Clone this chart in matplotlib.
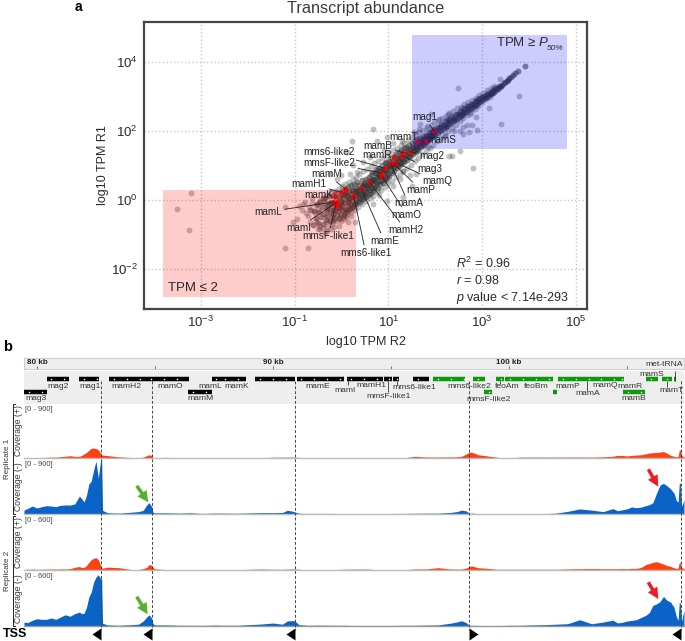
"""Transcript abundance scatter (a) and coverage tracks of the MAI region (b)."""
import numpy as np
from matplotlib import pyplot as plt
from matplotlib.patches import Rectangle

plt.rcParams['font.family'] = ['Liberation Sans', 'DejaVu Sans']
plt.rcParams['mathtext.fontset'] = 'custom'
plt.rcParams['mathtext.rm'] = 'Liberation Sans'
plt.rcParams['mathtext.it'] = 'Liberation Sans:italic'

W, H = 685, 641

# log10 TPM (R2, R1), dense diagonal read in three stretches
band_low = [(-.60,-.72),(-.58,-.31),(-.55,-.52),(-.52,-.12),(-.50,-.66),(-.48,-.35),(-.46,-.05),(-.44,-.50),(-.42,-.22),(-.40,-.71),
            (-.38,-.40),(-.36,-.10),(-.35,.05),(-.33,-.58),(-.31,-.28),(-.30,-.46),(-.28,-.15),(-.27,.10),(-.25,-.62),(-.24,-.35),
            (-.22,-.05),(-.21,-.50),(-.20,-.22),(-.18,.12),(-.17,-.41),(-.16,-.10),(-.15,-.55),(-.13,-.28),(-.12,.02),(-.11,.20),
            (-.10,-.45),(-.08,-.15),(-.07,-.33),(-.06,.08),(-.05,-.52),(-.03,-.22),(-.02,.15),(-.01,-.05),(.00,-.40),(.01,-.14),
            (.02,.25),(.03,-.30),(.04,.05),(.05,-.45),(.06,-.08),(.07,.18),(.08,-.25),(.09,.32),(.10,-.35),(.11,.00),
            (.12,.12),(.13,-.18),(.14,.38),(.15,-.30),(.16,.06),(.17,.24),(.18,-.12),(.19,-.26),(.20,.16),(.21,.42),
            (.22,-.04),(.23,-.20),(.24,.30),(.25,.08),(.26,-.15),(.27,.46),(.28,.20),(.29,-.08),(.30,.02),(.31,.36),
            (.32,-.12),(.33,.14),(.34,.52),(.35,-.02),(.36,.26),(.37,.06),(.38,.44),(.39,-.06),(.40,.18),(.41,.32),
            (.42,.02),(.43,.58),(.44,.10),(.45,.40),(.46,.22),(.47,.04),(.48,.50),(.49,.16),(.50,.30),(.51,.08),
            (.52,.62),(.53,.22),(.54,.44),(.55,.12),(.56,.34),(.57,.54),(.58,.18),(.59,.68),(.60,.28)]
band_mid = [(.61,.42),(.62,.72),(.63,.20),(.64,.56),(.65,.36),(.66,.82),(.67,.26),(.68,.62),(.69,.46),(.70,.34),
            (.71,.78),(.72,.54),(.73,.90),(.74,.40),(.75,.66),(.76,.48),(.77,.86),(.78,.36),(.79,.72),(.80,.56),
            (.81,.94),(.82,.46),(.83,.66),(.84,.84),(.85,.54),(.86,1.02),(.87,.70),(.88,.50),(.89,.90),(.90,.62),
            (.91,.78),(.92,1.06),(.93,.58),(.94,.84),(.95,.70),(.96,1.10),(.97,.64),(.98,.92),(1.00,.76),(1.01,1.14),
            (1.02,.70),(1.03,.98),(1.05,.84),(1.06,1.22),(1.07,.78),(1.08,1.04),(1.10,.92),(1.11,1.28),(1.12,.84),(1.14,1.10),
            (1.15,.98),(1.16,1.34),(1.18,.92),(1.19,1.18),(1.20,1.04),(1.22,1.38),(1.23,.98),(1.24,1.22),(1.26,1.10),(1.27,1.44),
            (1.28,1.04),(1.30,1.28),(1.31,1.14),(1.33,1.50),(1.34,1.10),(1.35,1.34),(1.37,1.22),(1.38,1.54),(1.40,1.16),(1.41,1.40),
            (1.43,1.28),(1.44,1.60),(1.46,1.24),(1.47,1.46),(1.49,1.34),(1.50,1.64),(1.52,1.32),(1.53,1.52),(1.55,1.42),(1.56,1.70),
            (1.58,1.40),(1.59,1.58),(1.61,1.48),(1.62,1.76),(1.64,1.46),(1.65,1.64),(1.67,1.56),(1.68,1.80),(1.70,1.54),(1.71,1.72),
            (1.73,1.62),(1.74,1.86),(1.76,1.60),(1.77,1.76),(1.79,1.68),(1.80,1.90),(1.82,1.68),(1.83,1.84),(1.85,1.74),(1.86,1.96),
            (1.88,1.76),(1.89,1.90),(1.91,1.82),(1.92,2.02),(1.94,1.82),(1.95,1.96),(1.97,1.90),(1.98,2.06),(2.00,1.88)]
band_high = [(2.02,2.00),(2.04,2.12),(2.06,1.94),(2.08,2.08),(2.10,2.00),(2.12,2.22),(2.14,2.04),(2.16,2.18),(2.18,2.08),(2.20,2.28),
             (2.22,2.12),(2.24,2.26),(2.26,2.14),(2.28,2.36),(2.30,2.20),(2.32,2.34),(2.34,2.24),(2.36,2.44),(2.38,2.28),(2.40,2.42),
             (2.42,2.32),(2.44,2.50),(2.46,2.36),(2.48,2.50),(2.50,2.40),(2.52,2.58),(2.54,2.44),(2.56,2.56),(2.58,2.48),(2.60,2.66),
             (2.62,2.52),(2.64,2.64),(2.66,2.56),(2.68,2.72),(2.70,2.60),(2.72,2.72),(2.74,2.64),(2.76,2.80),(2.78,2.68),(2.80,2.80),
             (2.82,2.72),(2.84,2.86),(2.86,2.76),(2.88,2.88),(2.90,2.80),(2.92,2.92),(2.94,2.84),(2.96,2.95),(2.98,2.88),(3.00,3.00),
             (3.02,2.92),(3.04,3.02),(3.06,2.96),(3.08,3.06),(3.10,3.00),(3.12,3.10),(3.14,3.04),(3.16,3.12),(3.18,3.08),(3.20,3.17),
             (3.22,3.10),(3.24,3.20),(3.26,3.14),(3.28,3.24),(3.30,3.18),(3.32,3.26),(3.34,3.22),(3.36,3.30),(3.38,3.28),(3.40,3.31),
             (3.43,3.35),(3.46,3.40),(3.49,3.42),(3.52,3.46),(3.55,3.48),(3.58,3.54),(3.62,3.57),(3.66,3.62),(3.70,3.68),(3.77,3.76),(3.91,3.88)]
band_core = [(-.30,-.24),(-.24,-.10),(-.18,-.30),(-.12,-.12),(-.06,-.24),(.00,-.02),(.06,.14),(.10,.20),(.14,-.06),(.18,.06),
             (.22,.30),(.26,.12),(.30,.22),(.34,.28),(.38,.18),(.42,.34),(.46,.42),(.50,.44),(.54,.36),(.58,.46),
             (.62,.52),(.66,.58),(.70,.62),(.74,.78),(.78,.70),(.82,.76),(.86,.88),(.90,.84),(.94,.96),(.98,.86),
             (1.02,1.02),(1.06,.98),(1.10,1.12),(1.14,1.04),(1.18,1.22),(1.22,1.14),(1.26,1.30),(1.30,1.20),(1.34,1.38),(1.38,1.30),
             (1.42,1.48),(1.46,1.38),(1.50,1.54),(1.54,1.46),(1.58,1.62),(1.62,1.54),(1.66,1.72),(1.70,1.64),(1.74,1.78),(1.78,1.72),
             (1.82,1.86),(1.86,1.80),(1.90,1.94),(1.94,1.88),(1.98,2.00),(2.10,2.12),(2.20,2.18),(2.30,2.30),(2.40,2.36),(2.50,2.50),
             (2.60,2.56),(2.70,2.68),(2.80,2.76),(2.90,2.88)]
edge_upper = [(-.65,-.28),(-.55,-.15),(-.45,.00),(-.38,.06),(-.30,.14),(-.22,.22),(-.14,.26),(-.06,.32),(.02,.40),(.08,.46),
              (.16,.52),(.24,.62),(.30,.68),(.38,.76),(.46,.84),(.54,.90),(.62,.98),(.70,1.06),(.78,1.14),(.86,1.22),
              (.94,1.28),(1.02,1.36),(1.10,1.44),(1.18,1.52),(1.26,1.60),(1.34,1.66),(1.42,1.74),(1.50,1.82),(1.58,1.88),(1.66,1.96),
              (1.74,2.04),(1.82,2.10),(1.90,2.18),(1.98,2.26),(2.06,2.30),(2.14,2.38),(2.22,2.44),(2.30,2.52),(2.38,2.58),(2.46,2.66),
              (2.54,2.70),(2.62,2.78),(2.70,2.84),(2.78,2.90),(2.86,2.97),(2.94,3.04),(3.02,3.11),(3.10,3.18),(3.18,3.24),(3.26,3.32)]
edge_lower = [(-.50,-.85),(-.40,-.82),(-.30,-.78),(-.20,-.70),(-.12,-.62),(-.04,-.56),(.04,-.50),(.12,-.42),(.20,-.36),(.28,-.28),
              (.36,-.20),(.44,-.12),(.52,-.04),(.60,.06),(.68,.12),(.76,.22),(.84,.30),(.92,.38),(1.00,.48),(1.08,.56),
              (1.16,.66),(1.24,.74),(1.32,.84),(1.40,.94),(1.48,1.02),(1.56,1.12),(1.64,1.22),(1.72,1.32),(1.80,1.42),(1.88,1.50),
              (1.96,1.60),(2.04,1.70),(2.12,1.80),(2.20,1.90),(2.28,2.00),(2.36,2.08),(2.44,2.18),(2.52,2.28),(2.60,2.38),(2.68,2.47),
              (2.76,2.56),(2.84,2.65),(2.92,2.74),(3.00,2.84),(3.08,2.92),(3.16,3.00),(3.24,3.10)]
scattered = [(-3.21,.20),(-3.51,-.26),(-3.26,-.87),(-1.20,-1.41),(-.71,-1.41),(-1.20,-.21),(-1.03,-.65),(-.95,-.55),(-.90,-.19),(-.76,-.38),
             (-.56,-.39),(-.67,-.65),(-.31,-.65),(-.18,-.60),(.14,-.65),(.29,-.65),(-.82,-.11),(-.62,-.10),(-.70,-.22),(-.48,-.75),
             (-.05,-.75),(.05,-.55),(.68,2.05),(.22,1.72),(.11,1.38),(2.81,.92),(2.53,1.43),(.75,1.72),(.97,1.82),(1.10,1.64),
             (.33,.80),(.18,.76),(-.24,.76),(-.10,.62),(.00,.72),(.25,1.00),(.45,1.10),(.60,1.25),(1.60,.76),(1.46,.71),
             (1.32,.85),(1.50,.41),(1.32,.08),(.97,-.02),(.68,-.11),(.25,-.21),(.80,.15),(1.10,.40),(1.25,.62),(2.48,3.26),
             (3.79,3.02),(3.40,2.21),(3.15,2.67),(2.87,2.40),(2.88,2.03),(2.78,2.19),(2.67,2.19),(2.59,2.13),(2.53,1.99),(2.71,1.96),
             (2.60,1.92),(2.35,1.27),(2.30,1.29),(1.90,2.50),(2.07,2.35),(1.68,2.21),(1.66,2.06),(1.82,2.16),(3.37,3.50),(2.74,2.50),
             (2.27,2.50),(2.20,1.85),(2.40,2.00),(1.85,1.55),(1.55,1.98),(1.30,1.72),(.90,1.45),(-.85,-.30),(-.78,-.05),(-.72,-.48),
             (-.66,-.30),(-.62,.05),(-.55,-.62),(-.50,-.25),(-.45,-.85),(-.40,.06),(-.36,-.95),(-.30,-.90),(-.22,-.85),(-.15,-.80),
             (.00,-.62),(.10,-.50),(.20,-.48)]

# the magnetosome genes marked in red
marked_genes = ['mag1', 'mamS', 'mamT', 'mag2', 'mamB', 'mag3', 'mamR', 'mamQ', 'mamP', 'mamA', 'mms6-like2',
                'mmsF-like2', 'mamO', 'mamH2', 'mamE', 'mms6-like1', 'mamM', 'mamH1', 'mamK', 'mamL', 'mamI', 'mmsF-like1']
marked_r2 = [1.98, 1.80, 1.62, 1.46, 1.32, 1.29, 1.12, 1.16, 1.11, 1.04, .92,
             .85, .87, .59, .42, .26, .08, -.02, -.14, -.17, -.10, -.12]
marked_r1 = [1.99, 1.72, 1.67, 1.40, 1.37, 1.28, 1.26, 1.08, 1.06, 1.08, .92,
             .78, .68, .52, .34, .12, .32, .23, .10, -.06, -.07, -.17]

# where the labels sit on the page, in pixels
label_px = [(424.7, 117.3), (442, 140), (403, 137), (431.7, 155.7), (378, 145.7), (430, 168.7), (376.7, 155),
            (437.3, 181.5), (420.7, 190), (408.3, 202.7), (329.3, 152.3), (329.3, 162.7), (406.7, 214.7),
            (405.7, 229.7), (384.3, 240.7), (365.7, 252.7), (326.7, 174.3), (308.7, 183.7), (318.3, 195),
            (268.3, 211.7), (299, 227.7), (328.3, 235.7)]
no_leader = ['mamS', 'mamT', 'mamR', 'mamK']

# genes along the island: name of the bar, start and end in kb
black_genes_row1 = [(80.41, 81.36), (81.79, 82.64), (83.05, 84.65), (84.65, 86.43), (87.40, 87.75), (87.75, 88.86),
                    (89.24, 90.93), (91.0, 93.0), (93.12, 94.67), (94.7, 95.03), (95.07, 95.35), (95.93, 96.61)]
black_genes_row2 = [(79.45, 80.42), (86.41, 87.40)]
green_genes_row1 = [(96.79, 98.12), (98.47, 98.97), (99.45, 99.79), (99.83, 101.88), (102.09, 103.69), (103.69, 104.56),
                    (104.59, 104.87), (105.81, 106.3), (106.48, 106.93), (107.0, 107.08)]
green_genes_row2 = [(98.95, 99.29), (101.88, 102.05), (104.84, 105.76)]
gene_labels = ['mag2', 'mag1', 'mamH2', 'mamO', 'mamL', 'mamK', 'mamE', 'mag3', 'mamM', 'mamI', 'mamH1', 'mmsF-like1',
               'mms6-like1', 'mms6-like2', 'mmsF-like2', 'feoAm', 'feoBm', 'mamP', 'mamA', 'mamQ', 'mamR', 'mamB',
               'mamS', 'met-tRNA', 'mamT']
gene_label_px = [(58.3, 386), (90, 386), (126.7, 386), (170, 386), (210.3, 386), (237, 386), (317.7, 386), (35.7, 399),
                 (201, 399), (345.5, 390), (371.7, 385.7), (389, 397), (414.7, 387.3), (469.3, 387), (488.7, 399.3),
                 (507, 387), (536.7, 387), (567.7, 386), (587.7, 393.7), (605, 385.3), (630, 386.3), (634, 398.7),
                 (651.3, 374), (664.3, 365), (671.7, 390.3)]
gene_stems_kb = [93.18, 94.86, 95.25, 99.62, 103.31, 106.69, 107.03]

ruler_major = [80, 90, 100]
ruler_minor = [85, 95, 105]
tss_kb = [82.73, 84.87, 90.93, 98.32, 107.28]
tss_forward = [False, False, False, True, False]

# coverage, all four tracks read at the same positions (kb)
cov_kb = [79.45, 79.6, 79.8, 80.0, 80.2, 80.4, 80.6, 80.8, 81.0, 81.2,
          81.4, 81.6, 81.8, 81.9, 82.0, 82.1, 82.2, 82.3, 82.4, 82.5,
          82.6, 82.7, 82.74, 82.78, 83.0, 83.5, 84.0, 84.3, 84.5, 84.65,
          84.75, 84.85, 84.92, 85.0, 85.5, 86.0, 86.5, 87.0, 87.5, 88.0,
          88.5, 89.0, 89.5, 90.0, 90.4, 90.6, 90.8, 90.93, 91.1, 91.5,
          92.0, 92.5, 93.0, 93.5, 94.0, 94.5, 95.0, 95.5, 96.0, 96.5,
          97.0, 97.5, 97.8, 98.0, 98.2, 98.33, 98.45, 98.7, 99.0, 99.5,
          100.0, 100.5, 101.0, 101.5, 102.0, 102.5, 103.0, 103.5, 104.0, 104.4,
          104.6, 104.8, 105.0, 105.2, 105.4, 105.6, 105.8, 105.95, 106.1, 106.25,
          106.4, 106.55, 106.7, 106.85, 107.0, 107.1, 107.17, 107.22, 107.27, 107.32,
          107.37, 107.42]
rep1_plus = [5, 5, 8, 5, 8, 12, 15, 15, 22, 30,
             39, 28, 28, 45, 70, 95, 130, 165, 170, 160,
             140, 80, 55, 50, 40, 18, 8, 0, 15, 40,
             55, 45, 5, 0, 12, 0, 0, 8, 0, 0,
             8, 0, 0, 14, 14, 14, 15, 15, 10, 0,
             0, 0, 8, 5, 5, 5, 0, 0, 28, 17,
             17, 18, 20, 30, 70, 100, 95, 55, 40, 12,
             0, 15, 15, 15, 15, 17, 17, 15, 20, 30,
             44, 44, 35, 45, 50, 55, 70, 85, 90, 95,
             100, 110, 80, 45, 28, 20, 30, 130, 139, 50,
             28, 25]
rep1_minus = [67, 92, 133, 100, 122, 138, 133, 122, 145, 150,
              150, 167, 300, 250, 200, 317, 500, 550, 733, 883,
              600, 900, 900, 60, 20, 15, 30, 40, 60, 150,
              190, 130, 28, 20, 20, 15, 20, 10, 15, 15,
              12, 18, 22, 22, 25, 60, 50, 33, 12, 10,
              10, 10, 8, 8, 8, 8, 8, 10, 12, 14,
              14, 25, 40, 65, 50, 6, 15, 5, 8, 8,
              6, 6, 4, 5, 15, 45, 85, 65, 40, 90,
              55, 70, 85, 117, 105, 115, 140, 155, 190, 340,
              480, 510, 470, 420, 345, 220, 200, 510, 510, 130,
              180, 233]
rep2_plus = [6, 8, 10, 8, 8, 10, 11, 10, 12, 11,
             15, 30, 38, 26, 30, 50, 85, 115, 130, 137,
             115, 50, 22, 20, 32, 25, 5, 5, 15, 30,
             60, 55, 28, 12, 5, 0, 0, 0, 0, 3,
             3, 8, 11, 8, 8, 10, 11, 11, 8, 0,
             0, 5, 8, 10, 10, 3, 3, 3, 11, 12,
             26, 12, 10, 11, 22, 40, 44, 25, 20, 8,
             8, 8, 8, 8, 8, 12, 14, 16, 14, 14,
             14, 16, 14, 18, 18, 28, 60, 72, 85, 92,
             80, 66, 50, 40, 25, 18, 20, 85, 80, 25,
             22, 18]
rep2_minus = [44, 37, 63, 81, 74, 74, 89, 74, 100, 125,
              108, 137, 155, 137, 144, 211, 322, 378, 488, 544,
              570, 525, 525, 30, 12, 8, 15, 20, 55, 100,
              125, 90, 25, 12, 12, 8, 8, 7, 10, 8,
              8, 15, 22, 33, 20, 55, 60, 55, 15, 8,
              10, 8, 8, 6, 6, 6, 6, 8, 8, 10,
              12, 30, 45, 58, 35, 6, 8, 6, 5, 5,
              8, 8, 12, 14, 20, 26, 70, 25, 44, 65,
              35, 40, 55, 62, 70, 95, 118, 150, 229, 245,
              270, 329, 285, 266, 205, 100, 63, 266, 250, 50,
              120, 174]

RED_TRACK = '#ff4010'
BLUE_TRACK = '#0a64c8'
TEXT = '#2a2a2a'


def axes_px(fig, left, top, right, bottom, **kwargs):
    """add_axes, but with the box given in pixels from the top left."""
    return fig.add_axes([left / W, 1 - bottom / H, (right - left) / W, (bottom - top) / H], **kwargs)


def log_points(points):
    pts = np.array(points)
    return 10.0 ** pts[:, 0], 10.0 ** pts[:, 1]


def plot_scatter(fig, page):
    ax = axes_px(fig, 143.5, 22, 587, 309)
    ax.set_xscale('log')
    ax.set_yscale('log')
    ax.set_xlim(10 ** -4.22, 10 ** 5.235)
    ax.set_ylim(10 ** -3.17, 10 ** 5.17)
    ax.set_xticks([1e-3, 1e-1, 1e1, 1e3, 1e5])
    ax.set_yticks([1e-2, 1e0, 1e2, 1e4])
    ax.minorticks_off()
    ax.tick_params(length=0, labelsize=9.5, labelcolor=TEXT, pad=4)
    ax.grid(True, ls=':', lw=1, color='#c8c8c8')
    ax.set_axisbelow(True)
    for spine in ax.spines.values():
        spine.set_linewidth(1.6)
        spine.set_color('#444444')

    for stretch in (scattered, edge_upper, edge_lower):
        x, y = log_points(stretch)
        ax.scatter(x, y, s=18, color='#333333', alpha=0.3, lw=0, zorder=2)
    for stretch in (band_low, band_mid, band_high, band_core):
        x, y = log_points(stretch)
        ax.scatter(x, y, s=18, color='#333333', alpha=0.55, lw=0, zorder=2)
    mx, my = 10.0 ** np.array(marked_r2), 10.0 ** np.array(marked_r1)
    ax.scatter(mx, my, s=11, color='#ff0000', lw=0, zorder=3)

    ax.add_patch(Rectangle((10 ** -3.80, 10 ** -2.81), 10 ** 0.30 - 10 ** -3.80, 10 ** 0.29 - 10 ** -2.81,
                           color='#ff0000', alpha=0.2, lw=0, zorder=4))
    ax.add_patch(Rectangle((10 ** 1.51, 10 ** 1.48), 10 ** 4.80 - 10 ** 1.51, 10 ** 4.80 - 10 ** 1.48,
                           color='#0000ff', alpha=0.2, lw=0, zorder=4))

    for name, gx, gy, pos in zip(marked_genes, mx, my, label_px):
        props = None
        if name not in no_leader:
            props = dict(arrowstyle='-', lw=0.6, color='#222222', shrinkA=0, shrinkB=0)
        ax.annotate(name, xy=(gx, gy), xytext=pos, textcoords=page.transData, fontsize=7.2, color='#222222',
                    ha='center', va='center', arrowprops=props, zorder=5)

    page.text(366, 9, 'Transcript abundance', fontsize=11.7, color='#3a3a3a', ha='center', va='center')
    page.text(366, 342, 'log10 TPM R2', fontsize=9, color=TEXT, ha='center', va='center')
    page.text(103, 165, 'log10 TPM R1', fontsize=9, color=TEXT, ha='center', va='center', rotation=90)
    page.text(75, 7, 'a', fontsize=10, weight='bold', color='black', ha='left', va='center')
    page.text(168, 288, 'TPM ≤ 2', fontsize=9.5, color=TEXT, ha='left', va='center')
    page.text(496, 43, 'TPM ≥ $P$', fontsize=9.5, color=TEXT, ha='left', va='center')
    page.text(547, 49, '50%', fontsize=6, style='italic', color=TEXT, ha='left', va='center')
    page.text(456, 263, r'$R^2$ = 0.96', fontsize=9, color=TEXT, ha='left', va='center')
    page.text(456, 281, r'$r$ = 0.98', fontsize=9, color=TEXT, ha='left', va='center')
    page.text(456, 298, r'$p$ value < 7.14e-293', fontsize=9, color=TEXT, ha='left', va='center')


def plot_genes(fig, page):
    xlim = (79.45, 107.42)
    ruler = axes_px(fig, 24, 358, 684, 369)
    ruler.set_xlim(*xlim)
    ruler.set_ylim(1, 0)
    ruler.set_facecolor('#eeeeee')
    ruler.set_xticks([])
    ruler.set_yticks([])
    for spine in ruler.spines.values():
        spine.set_color('#d0d0d0')
    ruler.vlines(ruler_major + ruler_minor, 0.7, 1, color='#555555', lw=0.6)
    for kb in ruler_major:
        ruler.text(kb, 0.4, '{} kb'.format(kb), fontsize=5.8, weight='bold', color='#222222',
                   ha='center', va='center')

    genes = axes_px(fig, 24, 371, 684, 404)
    genes.set_xlim(*xlim)
    genes.set_ylim(404, 371)
    genes.set_facecolor('#eeeeee')
    genes.set_xticks([])
    genes.set_yticks([])
    for spine in genes.spines.values():
        spine.set_visible(False)
    rows = [(black_genes_row1, 379, 'black'), (black_genes_row2, 392, 'black'),
            (green_genes_row1, 379, '#0a9a0a'), (green_genes_row2, 392, '#0a9a0a')]
    for spans, row_y, color in rows:
        for start, end in spans:
            genes.hlines(row_y, start, end, color=color, lw=3.2)
            inner = np.arange(start + 0.2, end, 0.55)
            genes.scatter(inner, [row_y] * len(inner), s=1.2, color='white', lw=0, zorder=3)
    stems = [(378, 385), (381, 392), (381, 385), (381, 384), (381, 391), (381, 387), (371, 381)]
    for kb, (y0, y1) in zip(gene_stems_kb, stems):
        genes.vlines(kb, y0, y1, color='#333333', lw=0.6)
    for name, (px, py) in zip(gene_labels, gene_label_px):
        page.text(px, py, name, fontsize=6.1, color='#333333', ha='center', va='center')


def plot_track(fig, top, bottom, values, ymax, color, base_color):
    ax = axes_px(fig, 24, top, 684, bottom)
    ax.fill_between(cov_kb, 0, values, color=color, lw=0)
    ax.set_xlim(79.45, 107.42)
    ax.set_ylim(0, ymax)
    ax.set_xticks([])
    ax.set_yticks([])
    for side in ('top', 'left', 'right'):
        ax.spines[side].set_visible(False)
    ax.spines['bottom'].set_color(base_color)
    ax.spines['bottom'].set_linewidth(1)
    ax.text(0.002, 0.985, '[0 - {}]'.format(ymax), transform=ax.transAxes, fontsize=5.5, color='#444444',
            ha='left', va='top')
    return ax


def plot_coverage(fig, page):
    plot_track(fig, 405, 458, rep1_plus, 900, RED_TRACK, '#bbbbbb')
    plot_track(fig, 460, 514, rep1_minus, 900, BLUE_TRACK, '#bbbbbb')
    plot_track(fig, 516, 570, rep2_plus, 600, RED_TRACK, '#bbbbbb')
    plot_track(fig, 572, 626, rep2_minus, 600, BLUE_TRACK, '#999999')

    overlay = axes_px(fig, 24, 381, 684, 641, facecolor='none', zorder=6)
    overlay.axis('off')
    overlay.set_xlim(79.45, 107.42)
    overlay.set_ylim(641, 381)
    overlay.vlines(tss_kb, 381, 630, color='#444444', lw=0.7, linestyles=(0, (3, 2)))
    left_tip = [(0, -6), (0, 6), (-9, 0)]
    right_tip = [(0, -6), (0, 6), (9, 0)]
    for kb, forward in zip(tss_kb, tss_forward):
        overlay.plot([kb], [634], marker=right_tip if forward else left_tip, ms=13, color='black',
                     mew=0, clip_on=False)

    page.text(3, 634, 'TSS', fontsize=9, weight='bold', color='black', ha='left', va='center')
    page.text(3, 347, 'b', fontsize=10.5, weight='bold', color='black', ha='left', va='center')
    for y0, y1, name in [(404, 514, 'Replicate 1'), (516, 626, 'Replicate 2')]:
        page.plot([15, 13, 13, 15], [y0, y0, y1, y1], color='#222222', lw=0.7)
        page.text(7.5, (y0 + y1) / 2, name, fontsize=5.8, color='#333333', rotation=90, ha='center', va='center')
    for mid, name in [(431, 'Coverage (+)'), (487, 'Coverage (-)'), (543, 'Coverage (+)'), (599, 'Coverage (-)')]:
        page.text(18.5, mid, name, fontsize=6.2, color='#333333', rotation=90, ha='center', va='center')

    arrows = [((136.7, 485.7), (148.3, 502.3), '#55b030'), ((648.3, 469.3), (658.3, 486.7), '#ee1c25'),
              ((136.7, 596.7), (147.7, 614.3), '#55b030'), ((648.3, 582.3), (658.3, 599), '#ee1c25')]
    for start, end, color in arrows:
        page.annotate('', xy=end, xytext=start, zorder=7,
                      arrowprops=dict(arrowstyle='simple,head_length=0.8,head_width=0.8,tail_width=0.25',
                                      color=color, lw=0, shrinkA=0, shrinkB=0))


def main():
    fig = plt.figure(figsize=(W / 100, H / 100), dpi=100)
    page = fig.add_axes([0, 0, 1, 1], facecolor='none', zorder=10)
    page.set_xlim(0, W)
    page.set_ylim(H, 0)
    page.axis('off')
    plot_scatter(fig, page)
    plot_genes(fig, page)
    plot_coverage(fig, page)
    fig.savefig('out.png', dpi=100)


if __name__ == "__main__":
    main()
